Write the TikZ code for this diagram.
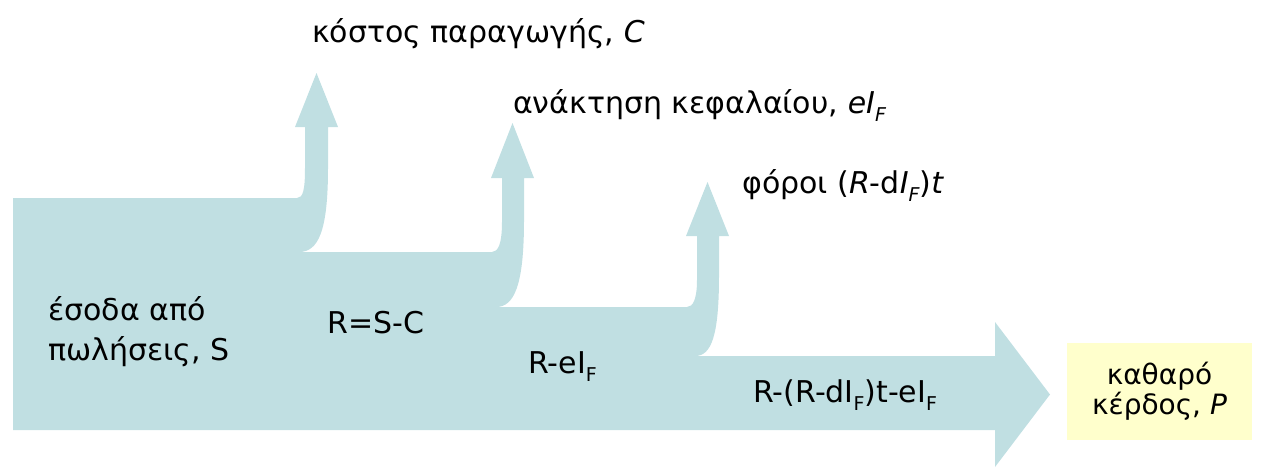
\documentclass[tikz,border=0pt]{standalone}
\usepackage{fontspec}
\setmainfont{DejaVu Sans}
\definecolor{flow}{RGB}{192,223,226}
\definecolor{boxy}{RGB}{255,255,204}
\newcommand\subF{\raisebox{-0.28em}{\fontsize{19}{19}\selectfont F}}
\begin{document}
\begin{tikzpicture}[x=1pt,y=-1pt,
  lbl/.style={anchor=base west, inner sep=0pt, font=\fontsize{30}{40}\selectfont}]
\useasboundingbox (0,0) rectangle (1270,471);
\fill[flow] (13,198) -- (297,198) .. controls (303,198) and (305,190) .. (305,168)
  -- (305,127) -- (295,127) -- (316.5,73) -- (338,127) -- (328,127) -- (328,168)
  .. controls (328,232) and (318,252) .. (299,252)
  -- (492,252) .. controls (498,252) and (502,244) .. (502,222)
  -- (502,178) -- (491,178) -- (512.5,123) -- (534,178) -- (524,178) -- (524,220)
  .. controls (524,286) and (514,307) .. (496,307)
  -- (687,307) .. controls (693,307) and (697,299) .. (697,280)
  -- (697,236) -- (686,236) -- (707.5,182) -- (729,236) -- (719,236) -- (719,276)
  .. controls (719,337) and (711,356) .. (695,356)
  -- (995,356) -- (995,322) -- (1050,394.5) -- (995,467) -- (995,430) -- (13,430) -- cycle;
\node[lbl] (cost) at (312,42) {κόστος παραγωγής, \textit{C}};
\node[lbl] (cap) at (513,113) {ανάκτηση κεφαλαίου, {\itshape eI\subF}};
\node[lbl] (tax) at (742,193) {φόροι (\textit{R}-d{\itshape I\subF})\textit{t}};
\node[lbl, align=left] (sales) at (48,360) {έσοδα από\\πωλήσεις, S};
\node[lbl] (rsc) at (327,333) {R=S-C};
\node[lbl] (rei) at (528,373) {R-eI\subF};
\node[lbl] (rest) at (753,402) {R-(R-dI\subF)t-eI\subF};
\node[fill=boxy, minimum width=185pt, minimum height=97pt, align=center,
  font=\fontsize{28}{30}\selectfont] (net) at (1159.5,391.5) {καθαρό\\κέρδος, \textit{P}};
\end{tikzpicture}
\end{document}
